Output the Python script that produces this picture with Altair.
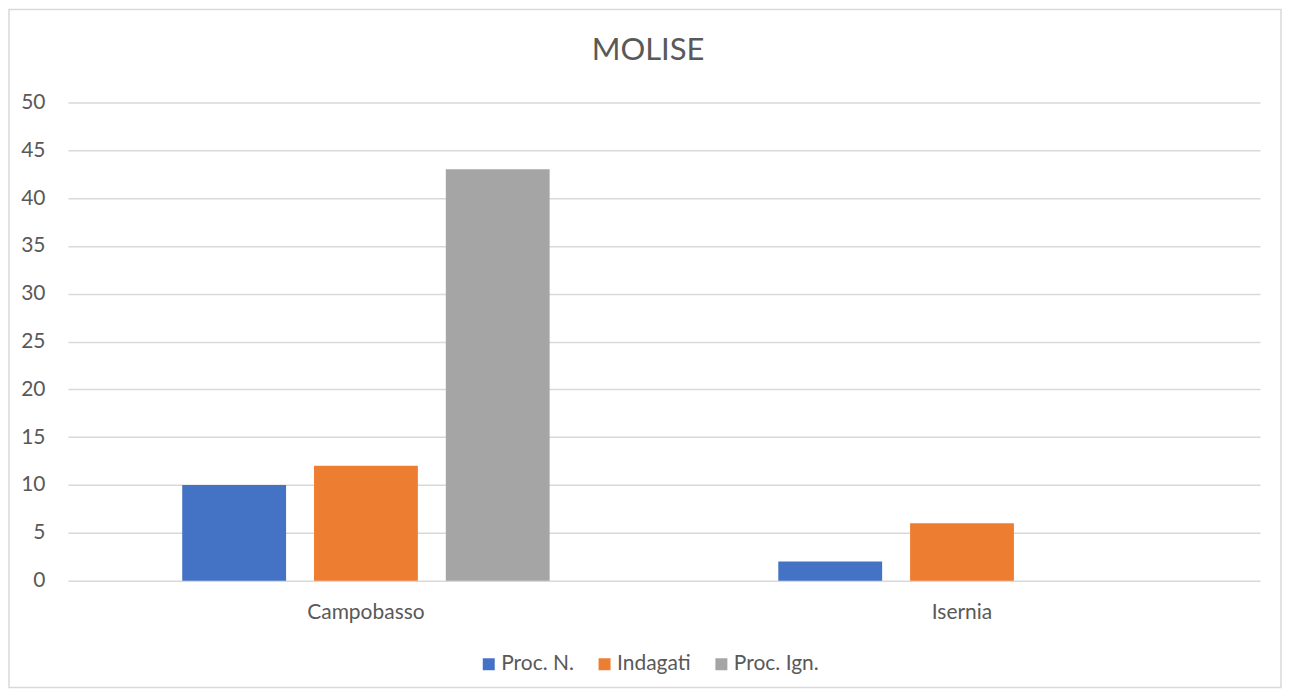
import altair as alt
import pandas as pd

categories = ["Campobasso", "Isernia"]
series = ["Proc. N.", "Indagati", "Proc. Ign."]
proc_n = [10, 2]
indagati = [12, 6]
proc_ign = [43, 0]
colors = ["#4472C4", "#ED7D31", "#A5A5A5"]

rows = []
for i, c in enumerate(categories):
    for s, vals in zip(series, [proc_n, indagati, proc_ign]):
        rows.append({"Provincia": c, "Serie": s, "Valore": vals[i]})
df = pd.DataFrame(rows)

FONT = "Lato"
W, H = 1194, 479

bars = alt.Chart(df).mark_bar().encode(
    x=alt.X("Provincia:N", sort=categories, title=None,
            scale=alt.Scale(paddingInner=0, paddingOuter=0),
            axis=alt.Axis(labelAngle=0, ticks=False, domain=False, grid=False,
                          labelPadding=21, labelFontSize=21, labelColor="#595959",
                          labelFont=FONT)),
    xOffset=alt.XOffset("Serie:N", sort=series,
                        scale=alt.Scale(paddingInner=0.212, paddingOuter=0.8675)),
    y=alt.Y("Valore:Q", title=None,
            scale=alt.Scale(domain=[0, 50]),
            axis=alt.Axis(values=list(range(0, 51, 5)), ticks=False, domain=False,
                          labelPadding=23, labelFontSize=21, labelColor="#595959",
                          labelFont=FONT, gridColor="#D9D9D9", gridWidth=1.5)),
    color=alt.Color("Serie:N", sort=series,
                    scale=alt.Scale(domain=series, range=colors),
                    legend=alt.Legend(title=None, orient="none", direction="horizontal",
                                      legendX=411, legendY=552,
                                      symbolType="square", symbolSize=144,
                                      symbolStrokeWidth=0, labelFontSize=21,
                                      labelColor="#595959", labelFont=FONT,
                                      labelOffset=2, columnPadding=20)),
)

frame = alt.Chart(pd.DataFrame({"a": [0]})).mark_rect(
    fill=None, stroke="#D9D9D9", strokeWidth=1.5
).encode(
    x=alt.value(-59), x2=alt.value(W + 21), y=alt.value(-93), y2=alt.value(H + 107)
)

chart = alt.layer(frame, bars).properties(
    width=W, height=H,
    background="white",
    title=alt.Title("MOLISE", fontSize=31, font=FONT, fontWeight="normal",
                    color="#595959", anchor="middle", frame="group",
                    baseline="alphabetic", offset=0, dy=82, dx=-16),
    autosize=alt.AutoSizeParams(type="none"),
    padding={"left": 60, "top": 94, "right": 22, "bottom": 108},
).configure_view(stroke="transparent", strokeWidth=0)

chart.save("out.html", embed_options={"renderer": "svg", "actions": False})
